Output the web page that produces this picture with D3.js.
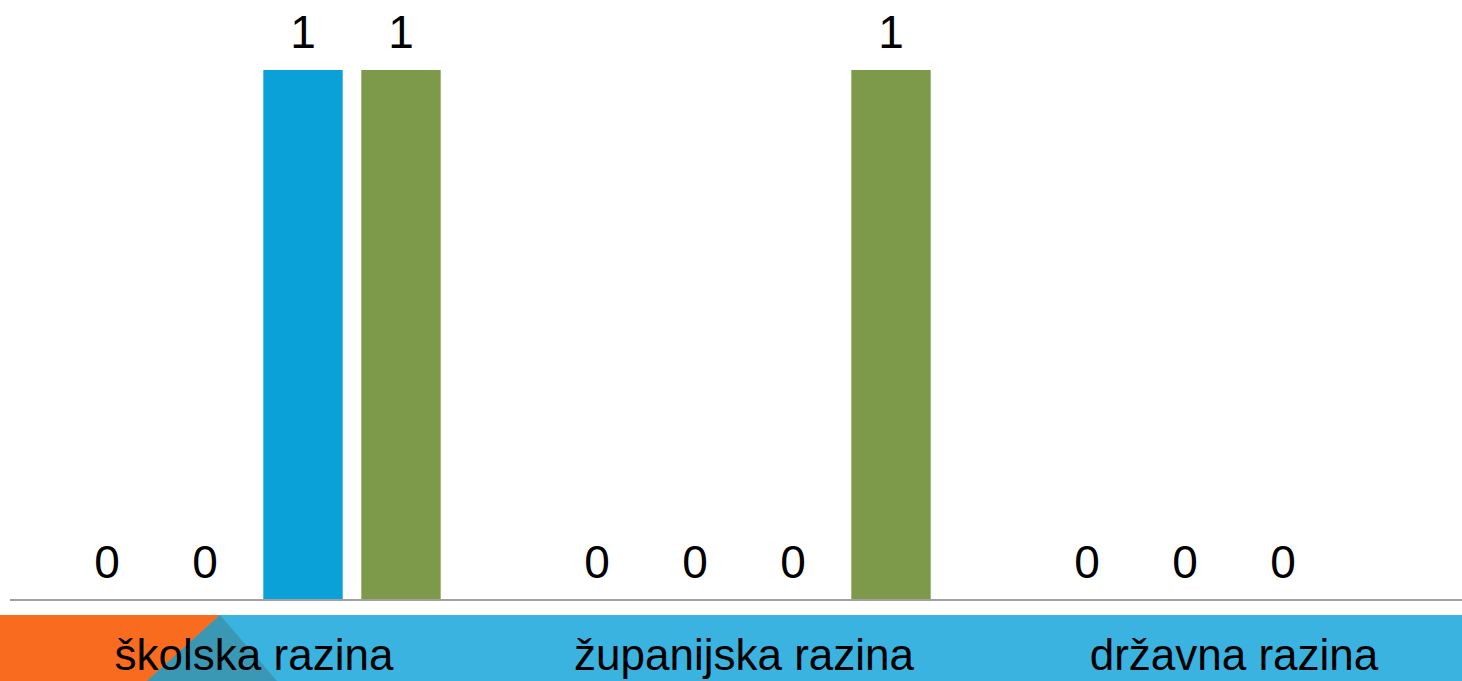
<!DOCTYPE html>
<html><head><meta charset="utf-8">
<script src="https://cdn.jsdelivr.net/npm/d3@7"></script>
<style>html,body{margin:0;padding:0;background:#fff;overflow:hidden}</style>
</head><body>
<svg id="c" width="1462" height="681"></svg>
<script>
const categories = ["školska razina", "županijska razina", "državna razina"];
const seriesNames = ["Serija 1", "Serija 2", "Serija 3", "Serija 4"];
const seriesColors = ["#F96B1E", "#3BB3E0", "#0AA1D9", "#7D9A4A"];
const series1 = [0, 0, 0];
const series2 = [0, 0, 0];
const series3 = [1, 0, 0];
const series4 = [1, 1, null];
const allSeries = [series1, series2, series3, series4];

const W = 1462, H = 681;
const svg = d3.select("#c");

// decorative bottom band
svg.append("rect").attr("x", 0).attr("y", 615).attr("width", W).attr("height", H - 615).attr("fill", "#3BB3E0");
svg.append("polygon").attr("points", "0,615 220,615 147,681 0,681").attr("fill", "#F96B1E");
svg.append("polygon").attr("points", "220,615 147,681 277,681").attr("fill", "#3A98B5");

const x0 = d3.scaleBand().domain(categories).range([9, 1479]).paddingInner(0).paddingOuter(0);
const x1 = d3.scaleBand().domain(seriesNames).range([49, x0.bandwidth() - 49]).paddingInner(0.19).paddingOuter(0.095);
const y = d3.scaleLinear().domain([0, 1]).range([600, 70]);

const data = [];
categories.forEach((c, i) => seriesNames.forEach((s, j) => {
  data.push({cat: c, ser: s, v: allSeries[j][i], color: seriesColors[j]});
}));
const valid = data.filter(d => d.v !== null);

svg.append("g").selectAll("rect").data(valid.filter(d => d.v > 0)).join("rect")
  .attr("x", d => x0(d.cat) + x1(d.ser))
  .attr("y", d => y(d.v))
  .attr("width", x1.bandwidth())
  .attr("height", d => y(0) - y(d.v))
  .attr("fill", d => d.color);

svg.append("g").selectAll("text").data(valid).join("text")
  .attr("x", d => x0(d.cat) + x1(d.ser) + x1.bandwidth() / 2)
  .attr("y", d => y(d.v) - 22)
  .attr("text-anchor", "middle")
  .attr("font-family", "'Liberation Sans', Arial, sans-serif")
  .attr("font-size", 46)
  .attr("fill", "#000")
  .text(d => d.v);

// axis line
const axis = svg.append("g").attr("transform", "translate(0,600)")
  .call(d3.axisBottom(x0).tickSize(0).tickFormat(""));
axis.select(".domain").attr("d", "M10,0H1462").attr("stroke", "#A0A0A0").attr("stroke-width", 2);

svg.append("g").selectAll("text").data(categories).join("text")
  .attr("x", d => x0(d) + x0.bandwidth() / 2)
  .attr("y", 670)
  .attr("text-anchor", "middle")
  .attr("font-family", "'Liberation Sans', Arial, sans-serif")
  .attr("font-size", 44)
  .attr("fill", "#000")
  .text(d => d);
</script>
</body></html>
